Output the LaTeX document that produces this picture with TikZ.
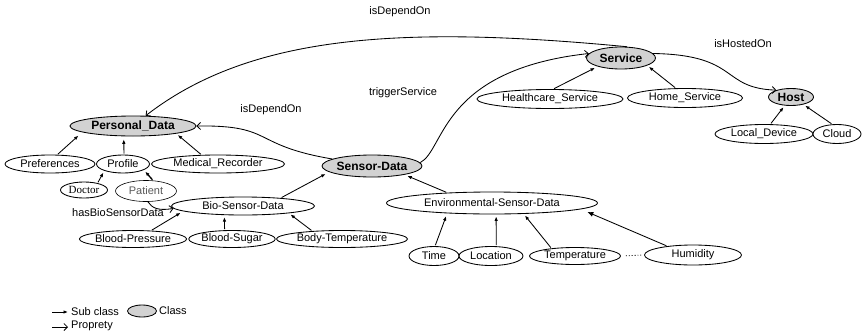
\documentclass[tikz,border=0pt]{standalone}
\usepackage{fontspec}
\setmainfont{Liberation Sans}
\newfontfamily\serifdoc{Liberation Serif}
\usetikzlibrary{shapes.geometric,arrows.meta}
\begin{document}
\begin{tikzpicture}[x=1pt,y=-1pt,
  base/.style={ellipse,draw=black,line width=0.85pt,inner sep=0pt,font=\fontsize{11}{13}\selectfont},
  cls/.style={base,fill=gray!35,font=\bfseries\fontsize{12}{14}\selectfont},
  sub/.style={base,fill=white},
  subof/.style={line width=0.85pt,-{Latex[length=4.5pt,width=3.5pt]},shorten <=1pt,shorten >=2pt},
  prop/.style={line width=0.85pt,-{Straight Barb[length=3.5pt,width=7pt]}},
  lbl/.style={font=\fontsize{11}{13}\selectfont,inner sep=0pt}
]
\useasboundingbox (0,0) rectangle (862,335);

% classes
\node[cls,minimum width=126pt,minimum height=20pt] (pd) at (133,126) {Personal\_Data};
\node[cls,minimum width=98pt,minimum height=22pt] (sd) at (372,166) {Sensor-Data};
\node[cls,minimum width=69pt,minimum height=22pt] (serv) at (621,58) {Service};
\node[cls,minimum width=45pt,minimum height=17pt] (host) at (791,97) {Host};

% sub classes
\node[sub,minimum width=90pt,minimum height=18pt] (pref) at (50,164) {Preferences};
\node[sub,minimum width=53pt,minimum height=18pt] (prof) at (123,164) {Profile};
\node[sub,minimum width=133pt,minimum height=18pt] (med) at (218,164) {Medical\_Recorder};
\node[sub,minimum width=47pt,minimum height=16pt] (doc) at (84,190) {\serifdoc Doctor};
\node[sub,line width=0.6pt,text=black!65,minimum width=61pt,minimum height=21pt] (pat) at (146,191) {Patient};
\node[sub,minimum width=143pt,minimum height=18pt] (bio) at (243,206) {Bio-Sensor-Data};
\node[sub,minimum width=105pt,minimum height=17pt] (bp) at (133,239) {Blood-Pressure};
\node[sub,minimum width=81pt,minimum height=17pt] (bs) at (232,239) {Blood-Sugar};
\node[sub,minimum width=131pt,minimum height=17pt] (bt) at (342,239) {Body-Temperature};
\node[sub,minimum width=211pt,minimum height=22pt] (env) at (492,203) {Environmental-Sensor-Data};
\node[sub,minimum width=50pt,minimum height=19pt] (time) at (434,256) {Time};
\node[sub,minimum width=64pt,minimum height=19pt] (loc) at (491,256) {Location};
\node[sub,minimum width=91pt,minimum height=17pt] (temp) at (575,256) {Temperature};
\node[sub,minimum width=97pt,minimum height=20pt] (hum) at (693,255) {Humidity};
\node[sub,minimum width=146pt,minimum height=19pt] (hs) at (550,99) {Healthcare\_Service};
\node[sub,minimum width=115pt,minimum height=19pt] (home) at (685,98) {Home\_Service};
\node[sub,minimum width=98pt,minimum height=19pt] (ld) at (764,134) {Local\_Device};
\node[sub,minimum width=48pt,minimum height=19pt] (cloud) at (837,134) {Cloud};

% sub class arrows
\draw[subof,shorten >=5pt] (pref.52) -- (pd.187);
\draw[subof,shorten >=3pt] (prof.84) -- (pd.228);
\draw[subof] (med.151) -- (pd.350);
\draw[subof] (doc.27) -- (prof.200);
\draw[subof,line width=1.3pt] (pat.56) -- (prof.344);
\draw[subof,shorten >=4pt] (bio.12) -- (sd.188);
\draw[subof,shorten >=3pt] (bp.25) -- (bio.185);
\draw[subof] (bs.130) -- (bio.206);
\draw[subof] (bt.165) -- (bio.351);
\draw[subof,shorten >=3pt] (env.167) -- (sd.345);
\draw[subof,shorten >=3pt] (time.84) -- (env.193);
\draw[subof] (loc.62) -- (env.290);
\draw[subof] (temp.162) -- (env.341);
\draw[subof,shorten >=7pt,-{Latex[length=6pt,width=5pt]}] (hum.161) -- (env.356);
\draw[subof,shorten >=3pt] (hs.72) -- (serv.200);
\draw[subof,shorten >=2pt] (home.133) -- (serv.344);
\draw[subof] (ld.57) -- (host.234);
\draw[subof] (cloud.116) -- (host.329);
\draw[dotted,line width=0.9pt,shorten <=5pt,shorten >=3pt] (temp.east) -- (hum.west);

% properties
\draw[prop] (serv.61) .. controls (400,25) and (250,35) .. (pd.39);
\draw[prop] (sd.4) .. controls (445,150) and (440,70) .. (serv.172);
\draw[prop] (sd.170) .. controls (250,145) and (275,125) .. (pd.east);
\draw[prop] (serv.8) .. controls (740,55) and (720,88) .. (host.155);
\draw[prop] (pat.280) .. controls (152,208) and (158,211) .. (bio.182);

% property labels
\node[lbl] (l1) at (400,12) {isDependOn};
\node[lbl] (l2) at (403,93) {triggerService};
\node[lbl] (l3) at (271,110) {isDependOn};
\node[lbl] (l4) at (743,44) {isHostedOn};
\node[lbl] (l5) at (118,213) {hasBioSensorData};

% legend
\coordinate (lg1a) at (52,312);
\coordinate (lg1b) at (68,312);
\draw[subof,shorten <=0pt,shorten >=0pt] (lg1a) -- (lg1b);
\node[lbl,anchor=west] (lgt1) at (71,312) {Sub class};
\node[cls,minimum width=29pt,minimum height=12pt] (lgc) at (142,311) {};
\node[lbl,anchor=west] (lgt2) at (159,311) {Class};
\coordinate (lg2a) at (52,327);
\coordinate (lg2b) at (68,327);
\draw[prop] (lg2a) -- (lg2b);
\node[lbl,anchor=west] (lgt3) at (71,326) {Proprety};
\end{tikzpicture}
\end{document}
